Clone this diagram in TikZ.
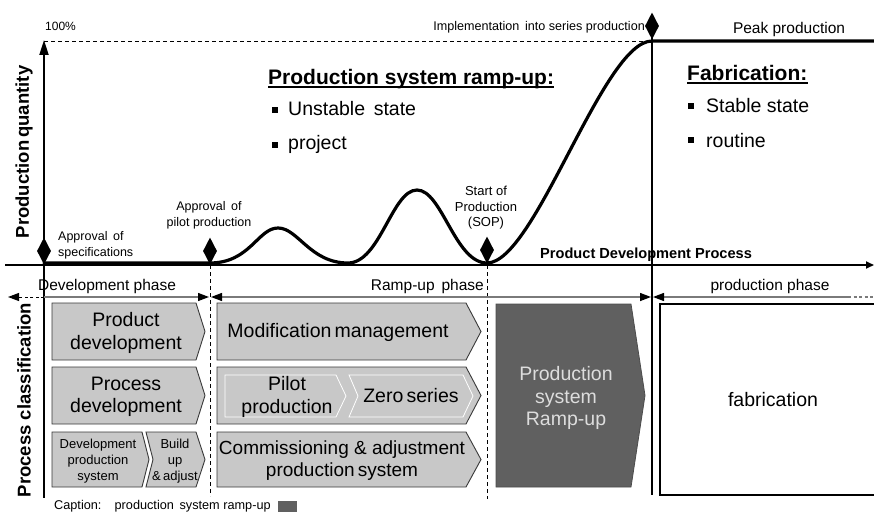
\documentclass[tikz,border=0pt]{standalone}
\usepackage{fontspec}
\setmainfont{Liberation Sans}
\usetikzlibrary{arrows.meta,shapes.geometric}
\definecolor{boxgray}{HTML}{C8C8C8}
\definecolor{darkbox}{HTML}{606060}
\definecolor{edgegray}{HTML}{3A3A3A}
\definecolor{phasegray}{HTML}{7A7A7A}
\definecolor{lighttext}{HTML}{DDDDDD}
\begin{document}
\begin{tikzpicture}[x=1pt,y=-1pt,
  small/.style={inner sep=0pt, font=\fontsize{12.5}{15.5}\selectfont, align=center},
  tiny/.style={inner sep=0pt, font=\fontsize{12}{14}\selectfont},
  phaselbl/.style={inner sep=0pt, font=\fontsize{15.5}{18}\selectfont},
  boxtxt/.style={inner sep=0pt, font=\fontsize{19.5}{22.5}\selectfont, align=center},
  smallbox/.style={inner sep=0pt, font=\fontsize{13}{16.3}\selectfont, align=center},
  bigtxt/.style={inner sep=0pt, font=\fontsize{19.5}{22}\selectfont},
  titletxt/.style={inner sep=0pt, font=\fontsize{21}{24}\selectfont\bfseries},
  axislbl/.style={inner sep=0pt, font=\fontsize{18.5}{21}\selectfont\bfseries, rotate=90},
  chev/.style={draw=edgegray, fill=boxgray, line width=0.9pt, line join=miter},
  inner chev/.style={draw=white, fill=boxgray, line width=0.8pt},
  milestone/.style={diamond, fill=black, inner sep=0pt, minimum width=14pt, minimum height=27pt},
  phaseline/.style={draw=phasegray, line width=1.3pt},
  tipb/.tip={Triangle[length=11pt,width=8pt,color=black]},
  bulletsq/.style={fill=black, minimum size=6pt, inner sep=0pt},
  curve/.style={line width=3.2pt, line join=round, line cap=round},
  vdash/.style={line width=0.9pt, dash pattern=on 4pt off 3pt}
]
\useasboundingbox (0,0) rectangle (874,516);

% ---------------- upper chart ----------------
\coordinate (ytop) at (44,41);
\coordinate (peakpt) at (652,41);
\draw[line width=0.8pt, dash pattern=on 4pt off 3pt] (ytop) -- (peakpt);

% axes
\coordinate (xleft) at (5,265);
\coordinate (xright) at (874,265);
\draw[line width=1.8pt, -{Triangle[length=8pt,width=7pt]}] (xleft) -- (xright);
\coordinate (yorig) at (44,265);
\draw[line width=2pt, -{Triangle[length=15pt,width=9pt]}] (yorig) -- (44,40);

% vertical separators
\coordinate (ybot) at (44,498);
\draw[line width=1.8pt] (yorig) -- (ybot);
\coordinate (pilottop) at (210,265);
\coordinate (pilotbot) at (210,496);
\draw[vdash] (pilottop) -- (pilotbot);
\coordinate (soptop) at (487,265);
\coordinate (sopbot) at (487,499);
\draw[vdash] (soptop) -- (sopbot);

% curve
\draw[curve] (44,263) -- (210,263)
  .. controls (250,263) and (258,228) .. (278,228)
  .. controls (298,228) and (310,263) .. (348,263)
  .. controls (380,263) and (392,190) .. (417,190)
  .. controls (442,190) and (455,263) .. (487,263)
  .. controls (535,263) and (603,41) .. (peakpt) -- (874,41);

% milestones
\node[milestone] (m1) at (44,251) {};
\node[milestone] (m2) at (210,251) {};
\node[milestone] (m3) at (487,250) {};
\node[milestone] (m4) at (652,26) {};
\coordinate (sepbot) at (652,495);
\draw[line width=2pt] (m4.center) -- (sepbot);

% labels upper
\node[tiny, anchor=base west] (pct) at (45,31) {100\%};
\node[tiny, font=\fontsize{12.6}{14}\selectfont, anchor=base east] (impl) at (645,31) {Implementation\, into series production};
\node[phaselbl, anchor=base] (peak) at (789,33.5) {Peak production};
\node[small, align=left, anchor=west] (app1) at (58,245.5) {Approval\, of\\specifications};
\node[small] (app2) at (209,215.5) {Approval\, of\\pilot production};
\node[small, font=\fontsize{13}{15.5}\selectfont] (sop) at (486,208) {Start of\\Production\\(SOP)};
\node[inner sep=0pt, font=\fontsize{14.6}{16}\selectfont\bfseries, anchor=base west] (pdp) at (540,258) {Product Development Process};

\node[axislbl] (yl1) at (24,152) {Production\,quantity};
\node[axislbl] (yl2) at (24,400) {Process classification};

% titles
\node[titletxt, anchor=base west] (t1) at (268,84.5) {Production system ramp-up:};
\draw[line width=1.3pt] ([yshift=-2.6pt]t1.base west) -- ([yshift=-2.6pt]t1.base east);
\node[bulletsq] (b1) at (275,110) {};
\node[bigtxt, anchor=base west] (u1) at (288,115) {Unstable\, state};
\node[bulletsq] (b2) at (275,144.5) {};
\node[bigtxt, anchor=base west] (u2) at (288,149.5) {project};

\node[titletxt, anchor=base west] (t2) at (687,80.5) {Fabrication:};
\draw[line width=1.3pt] ([yshift=-2.6pt]t2.base west) -- ([yshift=-2.6pt]t2.base east);
\node[bulletsq] (b3) at (691,106) {};
\node[bigtxt, anchor=base west] (s1) at (706,113) {Stable state};
\node[bulletsq] (b4) at (691,140) {};
\node[bigtxt, anchor=base west] (s2) at (706,147) {routine};

% ---------------- phases ----------------
\coordinate (pa) at (44,297);
\coordinate (pb) at (209,297);
\coordinate (pl) at (8,297);
\coordinate (pc) at (211,297);
\coordinate (pd) at (651,297);
\coordinate (pe) at (653,297);
\coordinate (pf) at (848,297);
\coordinate (pg) at (873,297);
\draw[line width=1pt, dash pattern=on 3pt off 2.5pt, -tipb] (pa) -- (pl);
\draw[phaseline, -tipb] (pa) -- (pb);
\draw[phaseline, tipb-tipb] (pc) -- (pd);
\draw[phaseline, tipb-] (pe) -- (pf);
\draw[phaseline, dash pattern=on 3pt off 2.5pt] (pf) -- (pg);
\node[phaselbl, anchor=base] (ph1) at (107,290) {Development phase};
\node[phaselbl, anchor=base east] (ph2) at (484,290) {Ramp-up\, phase};
\node[phaselbl, anchor=base] (ph3) at (770,290) {production phase};

% ---------------- process boxes ----------------
\draw[chev] (52,303) -- (196,303) -- (205,331.5) -- (196,360) -- (52,360) -- cycle;
\node[boxtxt] (pd1) at (126,333) {Product\\development};
\draw[chev] (52,367) -- (196,367) -- (205,395.5) -- (196,424) -- (52,424) -- cycle;
\node[boxtxt] (pd2) at (126,397) {Process\\development};
\draw[chev] (52,432) -- (142,432) -- (149,459.5) -- (142,487) -- (52,487) -- cycle;
\node[smallbox] (dps) at (98,461) {Development\\production\\system};
\draw[chev] (146,432) -- (196,432) -- (205,459.5) -- (196,487) -- (146,487) -- (153,459.5) -- cycle;
\node[smallbox] (bua) at (175,461) {Build\\up\\\&\,adjust};

\draw[chev] (217,303) -- (466,303) -- (481,331.5) -- (466,360) -- (217,360) -- cycle;
\node[boxtxt] (mm) at (338,332) {Modification\,management};
\draw[chev] (217,367) -- (466,367) -- (481,395.5) -- (466,424) -- (217,424) -- cycle;
\draw[inner chev] (225,375) -- (336,375) -- (346,396) -- (336,417) -- (225,417) -- cycle;
\node[boxtxt] (pp) at (287,397) {Pilot\\production};
\draw[inner chev] (349,375) -- (463,375) -- (473,396) -- (463,417) -- (349,417) -- (358,396) -- cycle;
\node[boxtxt] (zs) at (411,396) {Zero\,series};
\draw[chev] (217,432) -- (466,432) -- (481,459.5) -- (466,487) -- (217,487) -- cycle;
\node[boxtxt, font=\fontsize{19}{22}\selectfont] (cap1) at (342,461) {Commissioning \& adjustment\\production\,system};

% ramp-up dark box
\draw[draw=black!70, fill=darkbox, line width=0.8pt] (496,304) -- (631,304) -- (645,395.5) -- (631,487) -- (496,487) -- cycle;
\node[boxtxt, text=lighttext] (psr) at (566,398) {Production\\system\\Ramp-up};

% fabrication box
\draw[line width=1.2pt, fill=white] (660,304) -- (880,304) -- (880,495) -- (660,495) -- cycle;
\node[boxtxt] (fab) at (773,400) {fabrication};

% caption
\node[inner sep=0pt, font=\fontsize{12.7}{15}\selectfont, anchor=base west] (capt) at (54,509) {Caption:\enspace\, production\, system ramp-up};
\node[fill=darkbox, minimum width=19pt, minimum height=11pt, inner sep=0pt, anchor=west] (capbox) at (278,506) {};
\end{tikzpicture}
\end{document}
